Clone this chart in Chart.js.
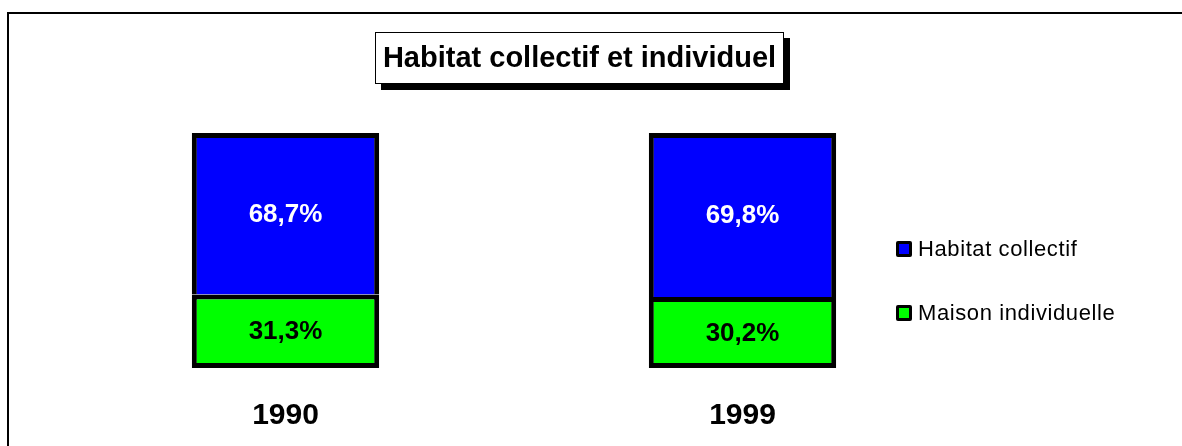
<!DOCTYPE html>
<html>
<head>
<meta charset="utf-8">
<script src="https://cdn.jsdelivr.net/npm/chart.js@4/dist/chart.umd.min.js"></script>
<style>
  html, body { margin: 0; padding: 0; background: #fff; }
  #wrap { width: 1182px; height: 446px; }
</style>
</head>
<body>
<div id="wrap"><canvas id="habitatChart" width="1182" height="446"></canvas></div>
<script>
const ctx = document.getElementById('habitatChart').getContext('2d');

// Données
const titre = 'Habitat collectif et individuel';
const annees = ['1990', '1999'];
const seriesNoms = ['Maison individuelle', 'Habitat collectif'];
const maisonIndividuelle = [31.3, 30.2];
const habitatCollectif = [68.7, 69.8];
const couleurs = ['#00ff00', '#0000ff'];
const couleursTexte = ['#000000', '#ffffff'];

function fmt(v) {
    return v.toFixed(1).replace('.', ',') + '%';
}

// cadre, titre, légende et valeurs dans les barres
const decor = {
    id: 'decor',
    beforeDraw(chart) {
        const c = chart.ctx;
        c.save();
        c.strokeStyle = '#000';
        c.lineWidth = 2;
        c.beginPath();
        c.moveTo(8, chart.height);
        c.lineTo(8, 13);
        c.lineTo(chart.width, 13);
        c.stroke();

        // titre avec ombre
        c.fillStyle = '#000';
        c.fillRect(381, 38, 409, 52);
        c.fillStyle = '#fff';
        c.fillRect(375, 32, 409, 52);
        c.lineWidth = 1;
        c.strokeRect(375.5, 32.5, 408, 51);
        c.fillStyle = '#000';
        c.font = 'bold 29px "Liberation Sans", Arial, sans-serif';
        c.textAlign = 'center';
        c.textBaseline = 'middle';
        c.fillText(titre, 579.5, 59);
        c.restore();
    },
    afterDatasetsDraw(chart) {
        const c = chart.ctx;
        c.save();
        c.font = 'bold 26px "Liberation Sans", Arial, sans-serif';
        c.textAlign = 'center';
        c.textBaseline = 'middle';
        chart.data.datasets.forEach((ds, i) => {
            const meta = chart.getDatasetMeta(i);
            c.fillStyle = couleursTexte[i];
            meta.data.forEach((el, j) => {
                c.fillText(fmt(ds.data[j]), el.x, (el.y + el.base) / 2 + 1);
            });
        });

        // légende (ordre inverse des séries)
        c.font = '22px "Liberation Sans", Arial, sans-serif';
        c.textAlign = 'left';
        c.letterSpacing = '0.6px';
        const items = chart.data.datasets.slice().reverse();
        items.forEach((ds, k) => {
            const y = 249 + k * 64;
            c.fillStyle = '#000';
            c.beginPath();
            c.roundRect(896, y - 8, 16, 16, 2);
            c.fill();
            c.fillStyle = ds.backgroundColor;
            c.fillRect(899, y - 5, 10, 10);
            c.fillStyle = '#000';
            c.fillText(ds.label, 918, y + 1);
        });
        c.restore();
    }
};

new Chart(ctx, {
    type: 'bar',
    data: {
        labels: annees,
        datasets: [
            {
                label: seriesNoms[0],
                data: maisonIndividuelle,
                backgroundColor: couleurs[0],
                borderColor: '#000',
                borderWidth: 5,
                borderSkipped: false
            },
            {
                label: seriesNoms[1],
                data: habitatCollectif,
                backgroundColor: couleurs[1],
                borderColor: '#000',
                borderWidth: 5,
                borderSkipped: 'start'
            }
        ]
    },
    options: {
        responsive: false,
        animation: false,
        layout: {
            padding: { top: 133, left: 57, right: 211, bottom: 0 }
        },
        datasets: {
            bar: { barPercentage: 0.41, categoryPercentage: 1 }
        },
        scales: {
            x: {
                stacked: true,
                grid: { display: false, drawTicks: false },
                border: { display: false },
                afterFit(scale) { scale.height = 78; },
                ticks: {
                    color: '#000',
                    padding: 30,
                    font: { family: '"Liberation Sans", Arial, sans-serif', size: 30, weight: 'bold' }
                }
            },
            y: {
                stacked: true,
                display: false,
                min: 0,
                max: 100
            }
        },
        plugins: {
            legend: { display: false },
            tooltip: { enabled: false },
            title: { display: false }
        }
    },
    plugins: [decor]
});
</script>
</body>
</html>
